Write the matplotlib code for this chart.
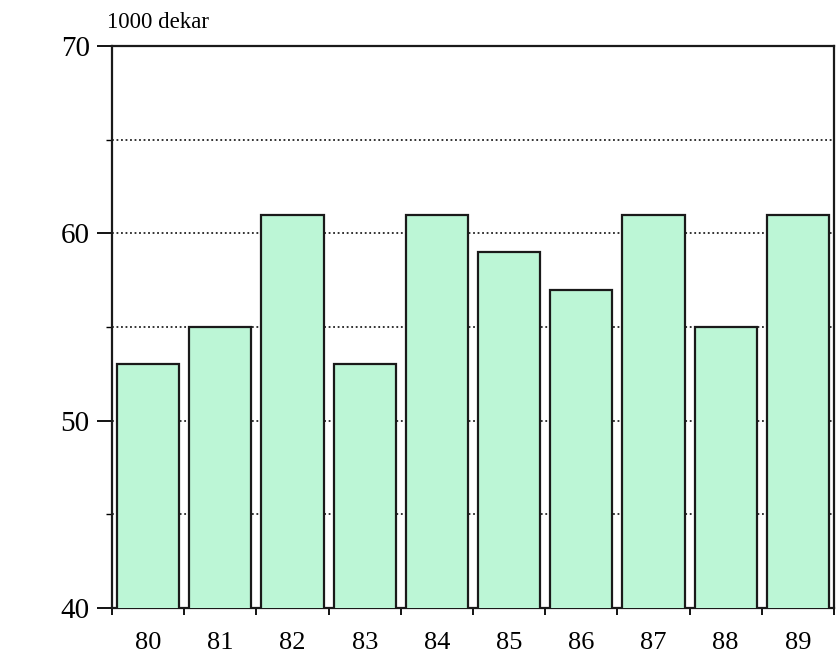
import numpy as np
import matplotlib.pyplot as plt
from matplotlib.ticker import MultipleLocator

years = ['80', '81', '82', '83', '84', '85', '86', '87', '88', '89']
values = [53, 55, 61, 53, 61, 59, 57, 61, 55, 61]

plt.rcParams['font.family'] = ['Liberation Serif', 'DejaVu Serif']

fig = plt.figure(figsize=(8.38, 6.59), dpi=100)
ax = fig.add_axes([112 / 838, 51 / 659, 722 / 838, 562 / 659])

x = np.arange(len(years))
ax.bar(x, values, width=0.86, bottom=0, color='#bcf6d6', edgecolor='#1a1a1a',
       linewidth=1.6, zorder=3)

ax.set_ylim(40, 70)
ax.set_xlim(-0.5, len(years) - 0.5)

# dotted reference lines behind the bars
for y in [45, 50, 55, 60, 65]:
    ax.axhline(y, color='#222222', linestyle=(0, (1, 1.5)), linewidth=1.3, zorder=1)

ax.yaxis.set_major_locator(MultipleLocator(10))
ax.yaxis.set_minor_locator(MultipleLocator(5))
ax.tick_params(axis='y', which='major', direction='out', length=11, width=1.3,
               labelsize=21, pad=5)
ax.tick_params(axis='y', which='minor', direction='out', length=4, width=1)

ax.set_xticks(np.arange(-0.5, len(years), 1.0))
ax.set_xticklabels([])
ax.set_xticks(x, minor=True)
ax.set_xticklabels(years, minor=True)
ax.tick_params(axis='x', which='major', direction='out', length=5, width=1.3)
ax.tick_params(axis='x', which='minor', length=0, labelsize=19, pad=17)

for s in ax.spines.values():
    s.set_linewidth(1.6)
    s.set_color('#1a1a1a')

fig.text(107 / 838, 1 - 22 / 659, '1000 dekar', fontsize=16.5, va='center', ha='left')

fig.savefig('out.png', dpi=100)
